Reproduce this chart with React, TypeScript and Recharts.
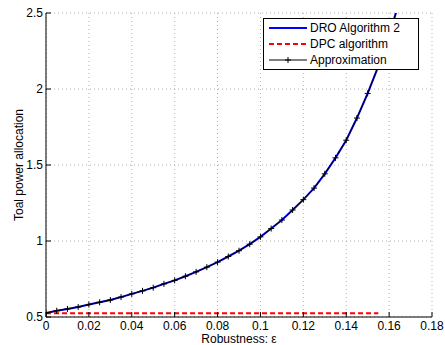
import { LineChart, Line, XAxis, YAxis, CartesianGrid, ReferenceArea } from 'recharts';

const epsilon = [0, 0.005, 0.01, 0.015, 0.02, 0.025, 0.03, 0.035, 0.04, 0.045, 0.05, 0.055, 0.06, 0.065, 0.07, 0.075, 0.08, 0.085, 0.09, 0.095, 0.1, 0.105, 0.11, 0.115, 0.12, 0.125, 0.13, 0.135, 0.14, 0.145, 0.15, 0.155, 0.16, 0.165];
const droPower = [0.526, 0.541, 0.553, 0.566, 0.582, 0.597, 0.612, 0.631, 0.652, 0.672, 0.693, 0.718, 0.741, 0.768, 0.797, 0.828, 0.861, 0.898, 0.936, 0.979, 1.027, 1.082, 1.138, 1.204, 1.272, 1.348, 1.442, 1.547, 1.663, 1.809, 1.971, 2.15, 2.36, 2.58];
const dpcPower = [0.525, 0.525, 0.525, 0.525, 0.525, 0.525, 0.525, 0.525, 0.525, 0.525, 0.525, 0.525, 0.525, 0.525, 0.525, 0.525, 0.525, 0.525, 0.525, 0.525, 0.525, 0.525, 0.525, 0.525, 0.525, 0.525, 0.525, 0.525, 0.525, 0.525, 0.525, 0.525, null, null];
const approxPower = [0.526, 0.541, 0.553, 0.566, 0.582, 0.597, 0.612, 0.631, 0.652, 0.672, 0.693, 0.718, 0.741, 0.768, 0.797, 0.828, 0.861, 0.898, 0.936, 0.979, 1.027, 1.082, 1.138, 1.204, 1.272, 1.348, 1.442, 1.547, 1.663, 1.809, 1.971, 2.15, 2.36, 2.58];

const xTicks = [0, 0.02, 0.04, 0.06, 0.08, 0.1, 0.12, 0.14, 0.16, 0.18];
const yTicks = [0.5, 1, 1.5, 2, 2.5];

const seriesNames = ['DRO Algorithm 2', 'DPC algorithm', 'Approximation'];

const data = epsilon.map((e, i) => ({
  eps: e,
  dro: droPower[i],
  dpc: dpcPower[i],
  approx: approxPower[i],
}));

const font = 'Liberation Sans, Arial, sans-serif';

const BottomTick = (props: any) => {
  const { x, y, payload } = props;
  return (
    <g>
      <line x1={x} y1={y} x2={x} y2={y - 5} stroke="#000" />
      <text x={x} y={y + 13} textAnchor="middle" fontSize={12} fontFamily={font} fill="#000">
        {String(payload.value)}
      </text>
    </g>
  );
};

const TopTick = (props: any) => {
  const { x, y } = props;
  return <line x1={x} y1={y} x2={x} y2={y + 5} stroke="#000" />;
};

const LeftTick = (props: any) => {
  const { x, y, payload } = props;
  return (
    <g>
      <line x1={x} y1={y} x2={x + 5} y2={y} stroke="#000" />
      <text x={x - 3} y={y + 4} textAnchor="end" fontSize={12} fontFamily={font} fill="#000">
        {String(payload.value)}
      </text>
    </g>
  );
};

const RightTick = (props: any) => {
  const { x, y } = props;
  return <line x1={x} y1={y} x2={x - 5} y2={y} stroke="#000" />;
};

const PlusDot = (props: any) => {
  const { cx, cy, index } = props;
  if (cx == null || cy == null) return <g key={`p-${index}`} />;
  return (
    <g key={`p-${index}`}>
      <line x1={cx - 3} y1={cy} x2={cx + 3} y2={cy} stroke="#000" />
      <line x1={cx} y1={cy - 3} x2={cx} y2={cy + 3} stroke="#000" />
    </g>
  );
};

const LegendBox = () => (
  <svg width={156} height={52} style={{ position: 'absolute', left: 263, top: 18 }}>
    <rect x={0.5} y={0.5} width={155} height={51} fill="#fff" stroke="#000" />
    <line x1={6} y1={10} x2={44} y2={10} stroke="#0000ff" strokeWidth={2} />
    <line x1={6} y1={26} x2={44} y2={26} stroke="#ff0000" strokeWidth={2} strokeDasharray="5 3" />
    <line x1={6} y1={42} x2={44} y2={42} stroke="#000" />
    <line x1={22} y1={42} x2={28} y2={42} stroke="#000" />
    <line x1={25} y1={39} x2={25} y2={45} stroke="#000" />
    {seriesNames.map((n, i) => (
      <text key={n} x={47} y={14 + i * 16} fontSize={12} fontFamily={font} fill="#000">
        {n}
      </text>
    ))}
  </svg>
);

export default function App() {
  return (
    <div style={{ position: 'absolute', left: 0, top: 0, width: 445, height: 345, background: '#fff' }}>
      <LineChart width={445} height={345} data={data} margin={{ top: 13, right: 13, left: 0, bottom: 0 }}>
        <CartesianGrid stroke="#b0b0b0" strokeDasharray="1 3" />
        <XAxis
          dataKey="eps"
          type="number"
          domain={[0, 0.18]}
          ticks={xTicks}
          allowDataOverflow
          height={28}
          stroke="#000"
          tickLine={false}
          tickSize={0}
          tickMargin={0}
          tick={<BottomTick />}
          interval={0}
          label={{ value: 'Robustness: ε', position: 'insideBottom', offset: 2, fontSize: 12, fontFamily: font, fill: '#000' }}
        />
        <XAxis
          xAxisId="top"
          orientation="top"
          dataKey="eps"
          type="number"
          domain={[0, 0.18]}
          ticks={xTicks}
          allowDataOverflow
          height={0}
          stroke="#000"
          tickLine={false}
          tickSize={0}
          tickMargin={0}
          tick={<TopTick />}
          interval={0}
        />
        <YAxis
          type="number"
          domain={[0.5, 2.5]}
          ticks={yTicks}
          allowDataOverflow
          width={46}
          stroke="#000"
          tickLine={false}
          tickSize={0}
          tickMargin={0}
          tick={<LeftTick />}
          interval={0}
          label={{ value: 'Toal power allocation', angle: -90, position: 'insideLeft', offset: 19, fontSize: 12, fontFamily: font, fill: '#000', style: { textAnchor: 'middle' } }}
        />
        <YAxis
          yAxisId="right"
          orientation="right"
          type="number"
          domain={[0.5, 2.5]}
          ticks={yTicks}
          allowDataOverflow
          width={0}
          stroke="#000"
          tickLine={false}
          tickSize={0}
          tickMargin={0}
          tick={<RightTick />}
          interval={0}
        />
        <ReferenceArea fill="none" stroke="#000" ifOverflow="visible" />
        <Line dataKey="dro" stroke="#0000ff" strokeWidth={2} dot={false} isAnimationActive={false} />
        <Line xAxisId="top" yAxisId="right" dataKey="dpc" stroke="#ff0000" strokeWidth={2} strokeDasharray="5 3" dot={false} isAnimationActive={false} />
        <Line dataKey="approx" stroke="#000" strokeWidth={1} dot={<PlusDot />} isAnimationActive={false} />
      </LineChart>
      <LegendBox />
    </div>
  );
}
